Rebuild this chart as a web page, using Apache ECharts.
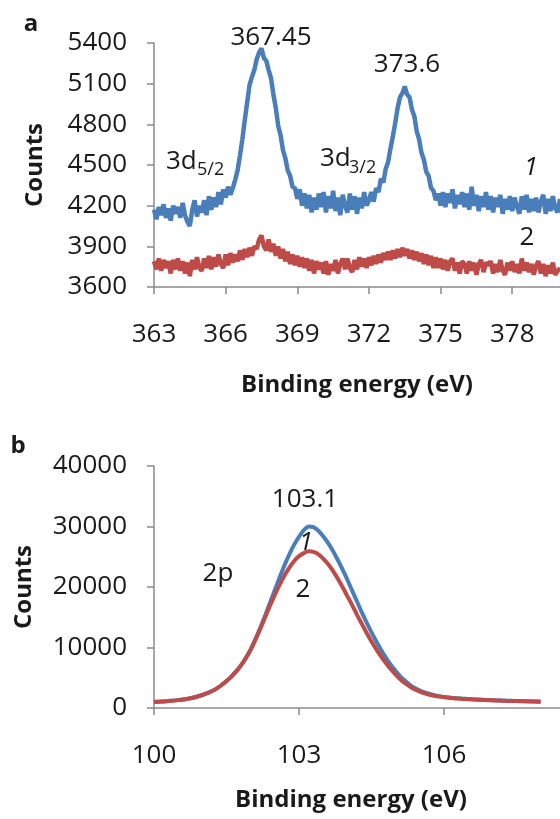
<!DOCTYPE html>
<html>
<head>
<meta charset="utf-8">
<title>XPS spectra</title>
<script src="https://cdn.jsdelivr.net/npm/echarts@6/dist/echarts.min.js"></script>
<style>
  html, body { margin: 0; padding: 0; background: #fff; }
  #chart { width: 560px; height: 819px; }
</style>
</head>
<body>
<div id="chart"></div>
<script>
// panel a: 3d region, sampled every 0.1 eV from 363.0 eV
const topStart = 363
const topStep = 0.1
const topCurve1 = [
  4170, 4100, 4190, 4130, 4210, 4110, 4180, 4090, 4200, 4140,
  4190, 4110, 4220, 4130, 4080, 4050, 4170, 4240, 4120, 4200,
  4150, 4240, 4130, 4270, 4170, 4260, 4190, 4300, 4210, 4320,
  4260, 4340, 4280, 4330, 4390, 4460, 4570, 4690, 4830, 4960,
  5090, 5150, 5200, 5280, 5330, 5360, 5290, 5270, 5200, 5140,
  5020, 4920, 4790, 4720, 4610, 4550, 4460, 4420, 4340, 4330,
  4250, 4320, 4200, 4290, 4180, 4280, 4150, 4260, 4170, 4290,
  4190, 4300, 4150, 4270, 4180, 4310, 4160, 4260, 4130, 4280,
  4200, 4150, 4290, 4170, 4270, 4140, 4260, 4180, 4300, 4200,
  4240, 4300, 4230, 4330, 4300, 4400, 4370, 4470, 4520, 4620,
  4710, 4810, 4920, 5000, 5030, 5080, 5020, 5000, 4910, 4860,
  4750, 4690, 4590, 4540, 4450, 4420, 4330, 4310, 4240, 4290,
  4200, 4300, 4190, 4290, 4220, 4320, 4180, 4280, 4210, 4300,
  4190, 4290, 4170, 4340, 4200, 4280, 4160, 4270, 4190, 4300,
  4170, 4270, 4150, 4260, 4190, 4280, 4140, 4250, 4170, 4270,
  4160, 4260, 4190, 4140, 4270, 4170, 4280, 4150, 4250, 4160,
  4260, 4150, 4230, 4280, 4140, 4250, 4160, 4270, 4180, 4150,
  4250
]
const topCurve2 = [
  3790, 3730, 3810, 3720, 3800, 3740, 3790, 3700, 3800, 3730,
  3810, 3720, 3790, 3700, 3780, 3680, 3800, 3730, 3820, 3740,
  3720, 3810, 3740, 3830, 3730, 3820, 3750, 3840, 3770, 3740,
  3840, 3760, 3850, 3780, 3840, 3790, 3870, 3800, 3880, 3820,
  3890, 3830, 3900, 3880, 3950, 3980, 3900, 3870, 3950, 3860,
  3920, 3830, 3900, 3810, 3880, 3790, 3860, 3770, 3840, 3760,
  3830, 3750, 3820, 3740, 3810, 3720, 3800, 3700, 3790, 3730,
  3780, 3700, 3790, 3690, 3770, 3720, 3800, 3700, 3770, 3810,
  3730, 3810, 3740, 3710, 3800, 3730, 3820, 3750, 3810, 3740,
  3820, 3760, 3830, 3770, 3840, 3780, 3850, 3800, 3860, 3800,
  3870, 3810, 3880, 3820, 3890, 3830, 3880, 3810, 3870, 3800,
  3860, 3790, 3850, 3770, 3840, 3760, 3830, 3740, 3820, 3740,
  3810, 3730, 3800, 3720, 3790, 3810, 3720, 3780, 3700, 3790,
  3770, 3700, 3790, 3720, 3780, 3690, 3770, 3800, 3710, 3780,
  3760, 3790, 3700, 3770, 3710, 3800, 3720, 3690, 3780, 3720,
  3790, 3710, 3770, 3700, 3810, 3720, 3780, 3710, 3770, 3690,
  3760, 3790, 3700, 3770, 3680, 3760, 3700, 3780, 3690, 3720,
  3740
]

// panel b: 2p region, sampled every 0.1 eV from 100.0 eV
const botStart = 100
const botStep = 0.1
const botCurve1 = [
  1000, 1040, 1090, 1150, 1220, 1300, 1400, 1530, 1690, 1900,
  2150, 2450, 2800, 3250, 3800, 4450, 5200, 6050, 7050, 8250,
  9700, 11400, 13300, 15300, 17400, 19500, 21600, 23600, 25400, 27000,
  28300, 29400, 30000, 29900, 29300, 28400, 27300, 26000, 24500, 22900,
  21200, 19400, 17600, 15800, 14100, 12500, 11000, 9600, 8300, 7100,
  6100, 5200, 4450, 3800, 3300, 2900, 2580, 2320, 2120, 1960,
  1840, 1740, 1660, 1600, 1540, 1490, 1440, 1400, 1360, 1320,
  1290, 1260, 1230, 1200, 1180, 1160, 1140, 1120, 1100, 1080,
  1060
]
const botCurve2 = [
  1000, 1040, 1090, 1150, 1220, 1300, 1400, 1530, 1690, 1900,
  2150, 2450, 2800, 3250, 3800, 4450, 5200, 6050, 7050, 8250,
  9650, 11300, 13100, 15000, 16900, 18700, 20400, 21900, 23200, 24300,
  25100, 25600, 25900, 25800, 25400, 24700, 23800, 22700, 21400, 20000,
  18500, 17000, 15400, 13900, 12400, 11000, 9700, 8500, 7400, 6400,
  5500, 4700, 4050, 3500, 3050, 2700, 2420, 2200, 2020, 1880,
  1770, 1680, 1610, 1550, 1500, 1450, 1410, 1370, 1330, 1300,
  1270, 1240, 1210, 1180, 1160, 1140, 1120, 1100, 1080, 1060,
  1040
]

const blue = '#4a7ebb'
const red = '#be4b48'
const axisGray = '#8a8a8a'
const ink = '#1a1a1a'
const font = 'Open Sans'

const pairs = (start, step, values) =>
  values.map((v, i) => [Math.round((start + i * step) * 10) / 10, v])

const axisCommon = {
  axisLine: { lineStyle: { color: axisGray, width: 1.5 } },
  axisTick: { lineStyle: { color: axisGray, width: 1.5 }, length: 7 },
  splitLine: { show: false },
  nameTextStyle: { fontFamily: font, fontSize: 24, fontWeight: 'bold', color: ink }
}

const plain = v => String(v)
const xLabel = { fontFamily: font, fontSize: 26, color: ink, margin: 35, formatter: plain, showMaxLabel: false }
const yLabel = { fontFamily: font, fontSize: 26, color: ink, margin: 27, formatter: plain }

const txt = (x, y, text, extra) => ({
  type: 'text',
  x: x,
  y: y,
  style: Object.assign({
    text: text,
    fontFamily: font,
    fontSize: 26,
    fill: ink,
    textAlign: 'center',
    textVerticalAlign: 'middle'
  }, extra || {})
})

const chart = echarts.init(document.getElementById('chart'))

const option = {
  animation: false,
  backgroundColor: '#fff',
  grid: [
    { left: 154, right: 0, top: 43, height: 244 },
    { left: 154, right: 0, top: 466, height: 242 }
  ],
  xAxis: [
    Object.assign({}, axisCommon, {
      gridIndex: 0, type: 'value', min: 363, max: 380, interval: 3,
      name: 'Binding energy (eV)', nameLocation: 'middle', nameGap: 86,
      axisLabel: xLabel
    }),
    Object.assign({}, axisCommon, {
      gridIndex: 1, type: 'value', min: 100, max: 108.4, interval: 3,
      name: 'Binding energy (eV)', nameLocation: 'middle', nameGap: 80,
      nameTextStyle: Object.assign({}, axisCommon.nameTextStyle, { padding: [0, 12, 0, 0] }),
      axisLabel: xLabel
    })
  ],
  yAxis: [
    Object.assign({}, axisCommon, {
      gridIndex: 0, type: 'value', min: 3600, max: 5400, interval: 300,
      name: 'Counts', nameLocation: 'middle', nameGap: 107,
      axisLabel: yLabel
    }),
    Object.assign({}, axisCommon, {
      gridIndex: 1, type: 'value', min: 0, max: 40000, interval: 10000,
      name: 'Counts', nameLocation: 'middle', nameGap: 118,
      axisLabel: yLabel
    })
  ],
  series: [
    {
      type: 'line', xAxisIndex: 0, yAxisIndex: 0, showSymbol: false,
      lineStyle: { color: blue, width: 4.5 },
      data: pairs(topStart, topStep, topCurve1)
    },
    {
      type: 'line', xAxisIndex: 0, yAxisIndex: 0, showSymbol: false,
      lineStyle: { color: red, width: 4.5 },
      data: pairs(topStart, topStep, topCurve2)
    },
    {
      type: 'line', xAxisIndex: 1, yAxisIndex: 1, showSymbol: false, smooth: 0.3,
      lineStyle: { color: blue, width: 4 },
      data: pairs(botStart, botStep, botCurve1)
    },
    {
      type: 'line', xAxisIndex: 1, yAxisIndex: 1, showSymbol: false, smooth: 0.3,
      lineStyle: { color: red, width: 4 },
      data: pairs(botStart, botStep, botCurve2)
    }
  ],
  graphic: [
    txt(31, 24, 'a', { fontWeight: 'bold', fontSize: 24 }),
    txt(18, 446, 'b', { fontWeight: 'bold', fontSize: 24 }),
    // panel a notes
    txt(271, 38, '367.45'),
    txt(407, 65, '373.6'),
    txt(166, 162, '3d', { textAlign: 'left' }),
    txt(197, 170, '5/2', { textAlign: 'left', fontSize: 18 }),
    txt(320, 159, '3d', { textAlign: 'left' }),
    txt(349, 168, '3/2', { textAlign: 'left', fontSize: 18 }),
    txt(531, 168, '1', { fontStyle: 'italic' }),
    txt(527, 238, '2'),
    // panel b notes
    txt(305, 500, '103.1'),
    txt(306, 543, '1', { fontStyle: 'italic' }),
    txt(303, 590, '2'),
    txt(218, 574, '2p')
  ]
}

chart.setOption(option)
window.addEventListener('resize', () => chart.resize())
</script>
</body>
</html>
